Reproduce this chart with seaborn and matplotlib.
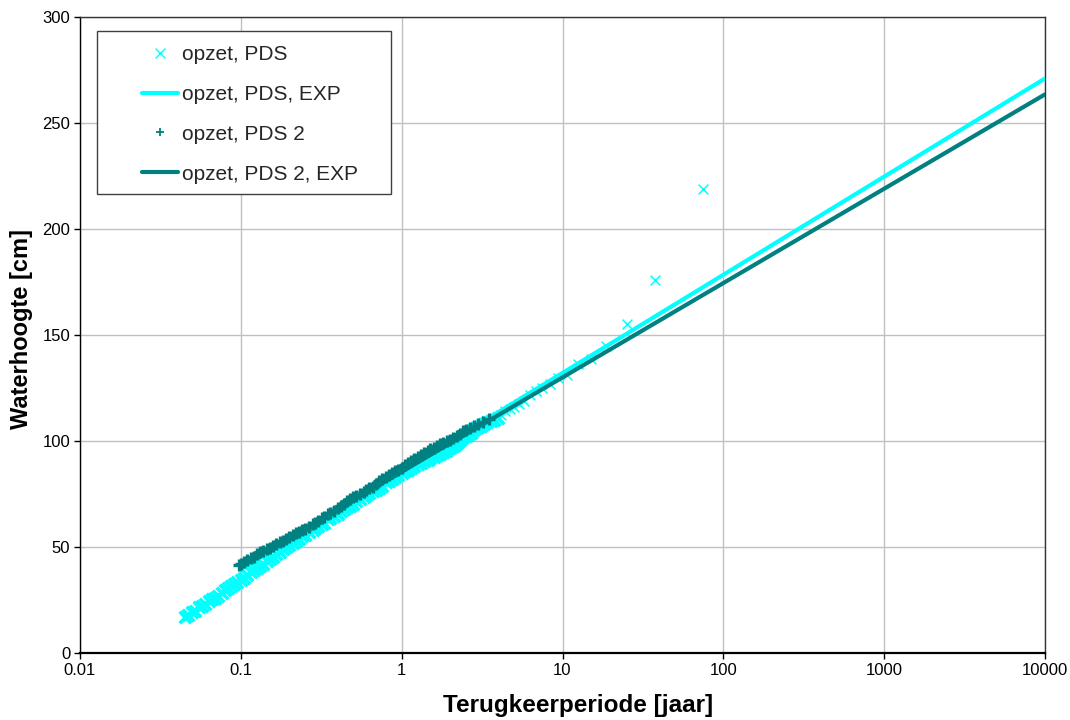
import matplotlib
matplotlib.use("Agg")
import matplotlib.pyplot as plt
import numpy as np
import pandas as pd
import seaborn as sns
from matplotlib.lines import Line2D
from matplotlib.patches import Rectangle
from matplotlib.ticker import FixedLocator, NullLocator

# ---------------- data ----------------
# opzet, PDS  (cyan crosses)
pds_T = [0.045, 0.047, 0.05, 0.052, 0.055, 0.057, 0.06, 0.063, 0.066, 0.069, 0.072, 0.076,
         0.08, 0.083, 0.087, 0.091, 0.095, 0.1,
         0.105, 0.11, 0.115, 0.12, 0.126, 0.132, 0.138, 0.145, 0.151, 0.158, 0.166, 0.174,
         0.182, 0.19, 0.2,
         0.21, 0.22, 0.23, 0.24, 0.25, 0.265, 0.28, 0.29, 0.3, 0.32, 0.33, 0.35, 0.36, 0.38,
         0.4, 0.42, 0.44, 0.46, 0.48, 0.5,
         0.52, 0.55, 0.58, 0.6, 0.63, 0.66, 0.69, 0.72, 0.76, 0.8, 0.83, 0.87, 0.91, 0.95, 1.0,
         1.05, 1.1, 1.15, 1.2, 1.26, 1.32, 1.38, 1.45, 1.51, 1.58, 1.66, 1.74, 1.82,
         1.88, 1.92, 1.97, 2.03, 2.08, 2.14, 2.21, 2.27, 2.34, 2.42, 2.5, 2.59, 2.68, 2.78,
         2.88, 3.0, 3.13, 3.26, 3.41, 3.57, 3.75, 3.95, 4.17, 4.41, 4.69, 5.0, 5.36, 5.77,
         6.25, 6.82, 7.5, 8.33, 9.38, 10.7, 12.5, 15.0, 18.75, 25.0, 37.5, 75.0]
pds_h = [17, 18, 19.5, 20, 21.5, 22, 23, 24.5, 25.5, 26, 27, 28.5,
         29.5, 30.5, 31.5, 32.5, 33.5, 34.5,
         35.5, 37, 38, 39, 40, 41, 42, 43.5, 44.5, 45.5, 46.5, 47.5,
         49, 50, 51,
         52, 53, 54, 55, 55.5, 57, 58, 59, 60, 61, 61.5, 63, 63.5, 64.5,
         65.5, 67, 68, 69, 69.5, 70.5,
         71.5, 72.5, 73.5, 74.5, 75.5, 76.5, 77, 78, 79, 80.5, 81, 82, 83, 84, 85,
         86, 86.5, 87.5, 88, 89, 89.5, 90.5, 91, 92, 92.5, 93.5, 94, 95,
         95.5, 96, 96.5, 97, 97.5, 98, 99, 100, 101, 102, 102.5, 103, 104, 105,
         106, 106.5, 107, 108, 109, 109.5, 110, 111, 112.5, 114, 115, 116, 117.5, 119,
         121.5, 123.5, 125, 127, 129.5, 131, 136.5, 138.5, 145, 155, 176, 219]

# opzet, PDS 2  (teal plus signs)
pds2_T = [0.097, 0.1, 0.105, 0.11, 0.115, 0.12, 0.126, 0.132, 0.138, 0.145, 0.151, 0.158,
          0.166, 0.174, 0.182, 0.19, 0.2,
          0.21, 0.22, 0.23, 0.24, 0.25, 0.265, 0.28, 0.29, 0.3, 0.32, 0.33, 0.35, 0.36, 0.38,
          0.4, 0.42, 0.44, 0.46, 0.48, 0.5,
          0.52, 0.55, 0.58, 0.6, 0.63, 0.66, 0.69, 0.72, 0.76, 0.8, 0.83, 0.87, 0.91, 0.95, 1.0,
          1.05, 1.1, 1.15, 1.2, 1.26, 1.32, 1.38, 1.45, 1.51, 1.58, 1.66, 1.74, 1.82,
          1.91, 2.0, 2.1, 2.2, 2.3, 2.4, 2.5, 2.65, 2.8, 3.0, 3.2, 3.5]
pds2_h = [41.5, 42, 43, 44, 45, 45.5, 46.5, 47.5, 48, 49, 49.5, 50.5,
          51.5, 52.5, 53, 54, 54.5,
          55.5, 56.5, 57, 58, 58.5, 59.5, 61, 61.5, 62.5, 63.5, 64, 65.5, 66, 67,
          68.5, 69.5, 70.5, 71.5, 72.5, 73.5,
          74, 75, 76, 77, 78, 78.5, 79.5, 81, 82, 83, 84, 85, 86, 86.5, 87.5,
          88.5, 89.5, 90.5, 91.5, 92.5, 93.5, 94.5, 95.5, 96, 96.5, 97.5, 98.5, 99,
          100, 100.5, 101.5, 102.5, 103.5, 104.5, 105, 106, 107, 108, 109, 110.5]

# exponential fits (straight lines on log-x)
exp_T = [0.1, 10000]
pds_exp_h = [39.5, 271]
pds2_exp_h = [41, 263.5]

x_ticks = [0.01, 0.1, 1, 10, 100, 1000, 10000]
x_ticklabels = ["0.01", "0.1", "1", "10", "100", "1000", "10000"]
y_ticks = [0, 50, 100, 150, 200, 250, 300]

labels = ["opzet, PDS", "opzet, PDS, EXP", "opzet, PDS 2", "opzet, PDS 2, EXP"]
CYAN = "#00FFFF"
TEAL = "#008080"

# ---------------- plotting ----------------
sns.set_theme(style="white")
plt.rcParams['font.family'] = ['Liberation Sans', 'DejaVu Sans']

fig = plt.figure(figsize=(10.7, 7.2), dpi=100)
ax = fig.add_axes([80 / 1070, 67 / 720, 965 / 1070, 636 / 720])

df1 = pd.DataFrame({"T": pds_T, "h": pds_h})
df2 = pd.DataFrame({"T": pds2_T, "h": pds2_h})
dl1 = pd.DataFrame({"T": exp_T, "h": pds_exp_h})
dl2 = pd.DataFrame({"T": exp_T, "h": pds2_exp_h})

# dense part of the series overlaps into a solid band; isolated crosses drawn thin
dense1 = df1[df1["T"] < 4]
sparse1 = df1[df1["T"] >= 4]
sns.scatterplot(data=dense1, x="T", y="h", marker="x", color=CYAN, s=70, linewidth=2.6,
                ax=ax, legend=False, zorder=3)
sns.scatterplot(data=sparse1, x="T", y="h", marker="x", color=CYAN, s=50, linewidth=1.1,
                ax=ax, legend=False, zorder=3)
sns.lineplot(data=dl1, x="T", y="h", color=CYAN, linewidth=3.0, ax=ax, legend=False,
             estimator=None, sort=False, zorder=4)
sns.scatterplot(data=df2, x="T", y="h", marker="+", color=TEAL, s=70, linewidth=2.4,
                ax=ax, legend=False, zorder=5)
sns.lineplot(data=dl2, x="T", y="h", color=TEAL, linewidth=3.0, ax=ax, legend=False,
             estimator=None, sort=False, zorder=6)

ax.set_xscale("log")
ax.set_xlim(0.01, 10000)
ax.set_ylim(0, 300)
ax.xaxis.set_major_locator(FixedLocator(x_ticks))
ax.xaxis.set_minor_locator(NullLocator())
ax.set_xticklabels(x_ticklabels)
ax.set_yticks(y_ticks)

ax.grid(True, which="major", color="#c0c0c0", linewidth=1.0)
ax.set_axisbelow(True)
ax.tick_params(axis="both", which="major", bottom=True, left=True, direction="out",
               length=4, width=1, color="black", labelsize=12, pad=3, labelcolor="black")
for name, sp in ax.spines.items():
    sp.set_visible(True)
    sp.set_color("black" if name in ("bottom", "left") else "#333333")
    sp.set_linewidth(1.6 if name == "bottom" else 1.0)

ax.set_xlabel("Terugkeerperiode [jaar]", fontsize=17.5, fontweight="bold", color="black")
ax.set_ylabel("Waterhoogte [cm]", fontsize=17, fontweight="bold", color="black")
ax.xaxis.set_label_coords((578 - 80) / 965, (653 - 694) / 636)
ax.yaxis.set_label_coords((33 - 80) / 965, 0.51)

# legend box + entries
frame = Rectangle((97 / 1070, 1 - 194 / 720), 294 / 1070, 163 / 720,
                  transform=fig.transFigure, facecolor="white", edgecolor="#404040",
                  linewidth=1.0, zorder=8, clip_on=False)
ax.add_patch(frame)
handles = [
    Line2D([], [], marker="x", ls="none", color=CYAN, markersize=6.5, markeredgewidth=1.0),
    Line2D([], [], color=CYAN, linewidth=3.0),
    Line2D([], [], marker="+", ls="none", color=TEAL, markersize=6, markeredgewidth=1.3),
    Line2D([], [], color=TEAL, linewidth=3.0),
]
leg = ax.legend(handles, labels, loc="upper left",
                bbox_to_anchor=(142 / 1070, 1 - 45 / 720), bbox_transform=fig.transFigure,
                frameon=False, fontsize=15, handlelength=1.75, handletextpad=0.17,
                labelspacing=1.0, borderpad=0, borderaxespad=0)
leg.set_zorder(9)

fig.savefig("out.png", dpi=100)
